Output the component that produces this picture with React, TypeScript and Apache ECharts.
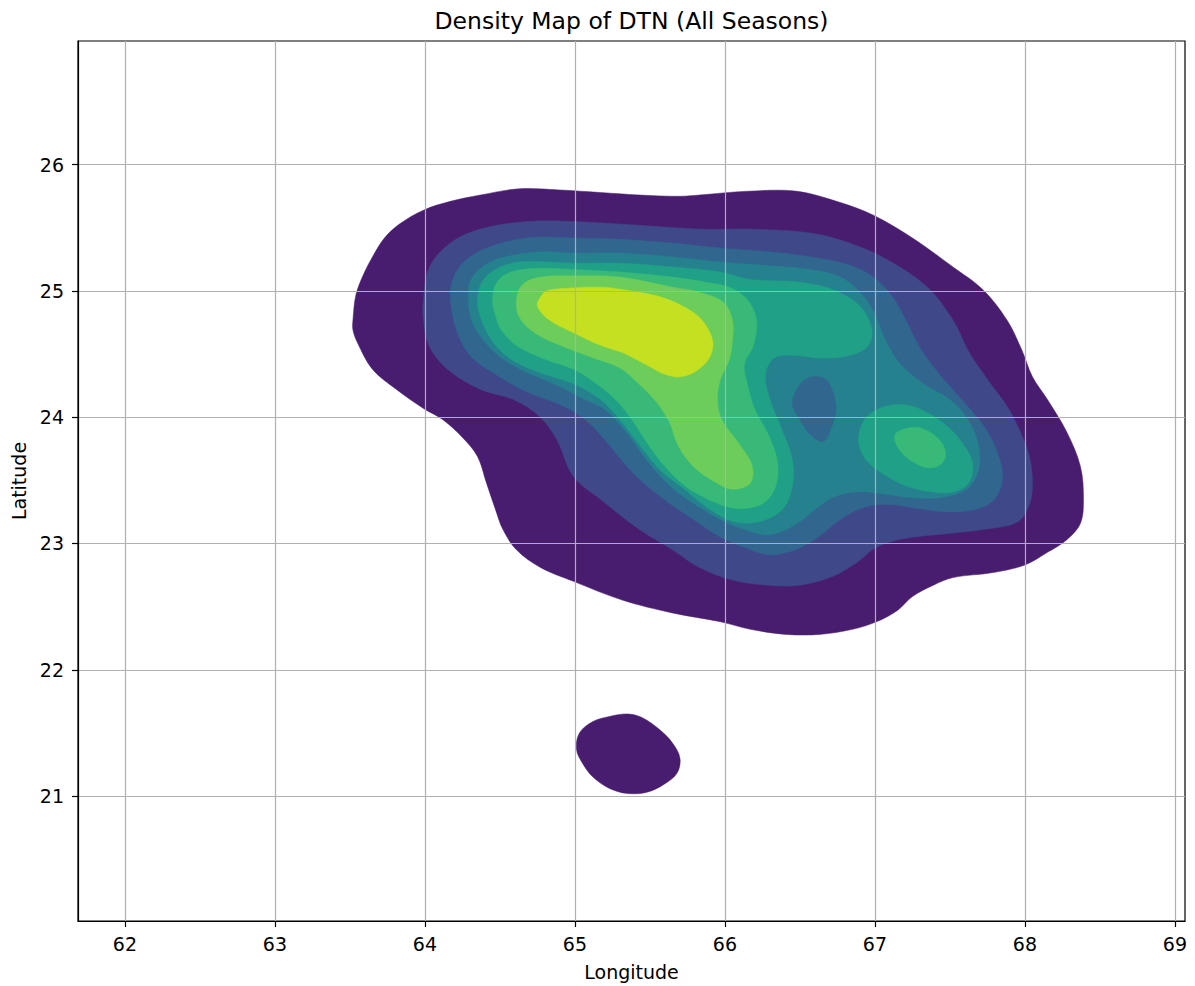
import React, { useEffect, useRef } from "react";
import * as echarts from "echarts";

const xTicks = [62, 63, 64, 65, 66, 67, 68, 69];
const yTicks = [21, 22, 23, 24, 25, 26];
const xRange = [61.687, 69.067];
const yRange = [20.01, 26.98];

const levelColors = ["#481c6e", "#3f4889", "#31668e", "#26818e", "#20a087", "#38b977", "#6ccd5a", "#c5e021"];

const level1Main = [[63.52,24.77],[63.54,24.97],[63.59,25.13],[63.65,25.27],[63.73,25.42],[63.83,25.53],[63.99,25.64],[64.17,25.71],[64.37,25.76],[64.63,25.81],[64.90,25.80],[65.17,25.78],[65.43,25.76],[65.70,25.75],[65.83,25.76],[66.15,25.79],[66.48,25.79],[66.77,25.70],[66.99,25.60],[67.25,25.42],[67.52,25.19],[67.72,25.01],[67.88,24.77],[67.98,24.53],[68.05,24.32],[68.15,24.14],[68.28,23.88],[68.37,23.61],[68.39,23.35],[68.37,23.16],[68.28,23.03],[68.15,22.93],[68.00,22.83],[67.79,22.77],[67.52,22.73],[67.39,22.67],[67.25,22.58],[67.15,22.47],[67.01,22.38],[66.85,22.32],[66.63,22.28],[66.41,22.28],[66.17,22.32],[65.97,22.38],[65.65,22.45],[65.32,22.55],[64.99,22.70],[64.77,22.81],[64.61,22.95],[64.52,23.11],[64.47,23.27],[64.41,23.48],[64.35,23.69],[64.25,23.84],[64.12,23.98],[63.99,24.07],[63.81,24.22],[63.65,24.38],[63.55,24.59],[63.52,24.69]];
const level1Small = [[65.03,21.50],[65.12,21.59],[65.23,21.63],[65.35,21.65],[65.45,21.62],[65.57,21.52],[65.65,21.42],[65.70,21.30],[65.68,21.18],[65.59,21.09],[65.48,21.03],[65.35,21.02],[65.23,21.06],[65.12,21.15],[65.05,21.26],[65.01,21.37]];
const level2 = [[63.99,24.77],[63.99,24.93],[64.03,25.19],[64.17,25.38],[64.37,25.49],[64.68,25.55],[64.99,25.55],[65.43,25.52],[65.83,25.49],[66.17,25.49],[66.57,25.46],[66.83,25.38],[67.08,25.25],[67.35,25.03],[67.52,24.77],[67.63,24.51],[67.75,24.30],[67.89,24.07],[67.97,23.88],[68.03,23.69],[68.05,23.48],[68.03,23.31],[67.95,23.17],[67.72,23.11],[67.50,23.08],[67.20,23.04],[67.01,22.97],[66.88,22.85],[66.72,22.74],[66.50,22.67],[66.28,22.67],[66.05,22.71],[65.83,22.81],[65.65,22.95],[65.43,23.11],[65.17,23.35],[64.99,23.53],[64.88,23.82],[64.77,24.00],[64.59,24.14],[64.37,24.22],[64.15,24.38],[64.03,24.56]];
const level3 = [[64.17,24.93],[64.18,25.07],[64.25,25.22],[64.41,25.34],[64.68,25.42],[64.99,25.42],[65.30,25.41],[65.65,25.38],[65.97,25.34],[66.30,25.31],[66.57,25.27],[66.82,25.21],[66.99,25.11],[67.12,24.95],[67.21,24.76],[67.30,24.55],[67.43,24.34],[67.57,24.15],[67.72,23.94],[67.81,23.74],[67.85,23.54],[67.81,23.37],[67.70,23.28],[67.50,23.25],[67.27,23.28],[67.08,23.31],[66.91,23.28],[66.77,23.19],[66.62,23.05],[66.47,22.95],[66.30,22.91],[66.13,22.97],[65.97,23.05],[65.79,23.19],[65.57,23.37],[65.37,23.58],[65.20,23.82],[65.07,23.98],[64.90,24.10],[64.68,24.20],[64.47,24.34],[64.30,24.49],[64.21,24.69]];
const level4 = [[64.29,24.93],[64.30,25.07],[64.37,25.18],[64.50,25.26],[64.77,25.31],[64.99,25.30],[65.30,25.30],[65.65,25.27],[65.97,25.23],[66.30,25.20],[66.57,25.17],[66.77,25.11],[66.90,24.99],[66.99,24.84],[67.07,24.61],[67.17,24.42],[67.33,24.26],[67.50,24.14],[67.62,23.98],[67.69,23.78],[67.69,23.58],[67.62,23.44],[67.47,23.37],[67.27,23.36],[67.07,23.39],[66.89,23.41],[66.73,23.37],[66.60,23.27],[66.47,23.15],[66.30,23.07],[66.13,23.11],[65.97,23.19],[65.80,23.31],[65.63,23.46],[65.48,23.66],[65.33,23.90],[65.20,24.06],[65.05,24.15],[64.87,24.26],[64.67,24.36],[64.50,24.48],[64.39,24.61],[64.31,24.77]];
const level3Hole = [[66.50,24.26],[66.58,24.32],[66.67,24.30],[66.72,24.20],[66.74,24.06],[66.71,23.92],[66.66,23.81],[66.58,23.85],[66.50,23.98],[66.45,24.11]];
const level5Main = [[64.35,24.93],[64.38,25.07],[64.47,25.17],[64.63,25.23],[64.99,25.22],[65.30,25.22],[65.65,25.19],[65.97,25.15],[66.17,25.09],[66.50,25.07],[66.72,25.01],[66.90,24.88],[66.98,24.69],[66.95,24.56],[66.83,24.49],[66.63,24.47],[66.47,24.49],[66.33,24.47],[66.27,24.34],[66.30,24.14],[66.38,23.90],[66.45,23.66],[66.45,23.46],[66.39,23.28],[66.25,23.18],[66.07,23.17],[65.90,23.27],[65.73,23.43],[65.57,23.58],[65.43,23.78],[65.30,23.98],[65.17,24.14],[65.00,24.26],[64.80,24.34],[64.60,24.44],[64.47,24.57],[64.38,24.76]];
const level5Right = [[66.89,23.82],[66.93,23.98],[67.03,24.07],[67.17,24.10],[67.31,24.06],[67.47,23.94],[67.58,23.80],[67.65,23.64],[67.63,23.49],[67.53,23.41],[67.37,23.41],[67.20,23.46],[67.03,23.57],[66.93,23.68]];
const level6Main = [[64.45,24.93],[64.48,25.07],[64.57,25.15],[64.77,25.18],[64.99,25.17],[65.30,25.15],[65.65,25.11],[65.87,25.07],[66.03,25.03],[66.15,24.93],[66.21,24.77],[66.19,24.57],[66.13,24.42],[66.15,24.26],[66.20,24.06],[66.29,23.86],[66.35,23.65],[66.34,23.46],[66.27,23.33],[66.15,23.28],[66.02,23.29],[65.87,23.36],[65.73,23.46],[65.60,23.61],[65.49,23.78],[65.38,23.98],[65.27,24.14],[65.15,24.26],[64.99,24.38],[64.80,24.46],[64.62,24.56],[64.51,24.69],[64.47,24.81]];
const level6Right = [[67.13,23.85],[67.18,23.90],[67.27,23.92],[67.37,23.88],[67.45,23.79],[67.47,23.69],[67.43,23.62],[67.35,23.60],[67.25,23.65],[67.17,23.73]];
const level7 = [[64.61,24.93],[64.65,25.05],[64.77,25.11],[65.01,25.12],[65.30,25.11],[65.65,25.03],[65.83,24.99],[65.99,24.91],[66.05,24.77],[66.05,24.61],[66.03,24.46],[65.97,24.30],[65.95,24.14],[65.98,23.98],[66.10,23.78],[66.18,23.62],[66.17,23.48],[66.05,23.43],[65.93,23.49],[65.79,23.61],[65.69,23.77],[65.63,23.96],[65.55,24.11],[65.43,24.26],[65.30,24.39],[65.10,24.48],[64.90,24.57],[64.73,24.67],[64.63,24.79]];
const level8 = [[64.77,24.95],[64.81,25.00],[64.93,25.02],[65.17,25.03],[65.32,25.01],[65.55,24.96],[65.72,24.88],[65.83,24.79],[65.90,24.67],[65.92,24.57],[65.89,24.46],[65.80,24.36],[65.70,24.32],[65.60,24.34],[65.50,24.40],[65.32,24.51],[65.17,24.57],[64.99,24.67],[64.83,24.77],[64.75,24.88]];

const contours = [
  { level: 0, pts: level1Main },
  { level: 0, pts: level1Small },
  { level: 1, pts: level2 },
  { level: 2, pts: level3 },
  { level: 3, pts: level4 },
  { level: 2, pts: level3Hole },
  { level: 4, pts: level5Main },
  { level: 4, pts: level5Right },
  { level: 5, pts: level6Main },
  { level: 5, pts: level6Right },
  { level: 6, pts: level7 },
  { level: 7, pts: level8 },
];

const FONT = "DejaVu Sans";

export default function App() {
  const ref = useRef<HTMLDivElement>(null);
  useEffect(() => {
    const chart = echarts.init(ref.current!, null, { renderer: "svg" });
    chart.setOption({
      animation: false,
      backgroundColor: "#ffffff",
      grid: { left: 78, right: 10, top: 41, bottom: 65, show: true, borderColor: "#000", borderWidth: 1.2, backgroundColor: "transparent" },
      graphic: [
        {
          type: "text",
          x: 631.5,
          y: 21,
          style: { text: "Density Map of DTN (All Seasons)", fill: "#000", font: `23.5px "${FONT}"`, textAlign: "center", textVerticalAlign: "middle" },
        },
      ],
      xAxis: {
        type: "value",
        min: xRange[0],
        max: xRange[1],
        z: 5,
        name: "Longitude",
        nameLocation: "middle",
        nameGap: 41,
        nameTextStyle: { color: "#000", fontSize: 19, fontFamily: FONT },
        axisLine: { show: true, onZero: false, lineStyle: { color: "#000", width: 1.2 } },
        axisTick: { show: true, customValues: xTicks, length: 6, lineStyle: { color: "#000", width: 1.2 } },
        axisLabel: { customValues: xTicks, color: "#000", fontSize: 19, fontFamily: FONT, margin: 13 },
        splitLine: { show: true, lineStyle: { color: "#b0b0b0", width: 1.2 } },
      },
      yAxis: {
        type: "value",
        min: yRange[0],
        max: yRange[1],
        z: 5,
        name: "Latitude",
        nameLocation: "middle",
        nameGap: 48,
        nameRotate: 90,
        nameTextStyle: { color: "#000", fontSize: 19, fontFamily: FONT },
        axisLine: { show: true, onZero: false, lineStyle: { color: "#000", width: 1.2 } },
        axisTick: { show: true, customValues: yTicks, length: 6, lineStyle: { color: "#000", width: 1.2 } },
        axisLabel: { customValues: yTicks, color: "#000", fontSize: 19, fontFamily: FONT, margin: 14 },
        splitLine: { show: true, lineStyle: { color: "#b0b0b0", width: 1.2 } },
      },
      series: [
        {
          type: "custom",
          coordinateSystem: "cartesian2d",
          clip: true,
          encode: { x: 0, y: 1 },
          data: contours.map((c, i) => [c.pts[0][0], c.pts[0][1], i]),
          renderItem: (params: any, api: any) => {
            const idx = api.value(2);
            const c = contours[idx];
            return {
              type: "polygon",
              z2: idx,
              shape: { points: c.pts.map((p) => api.coord(p)), smooth: 0.35 },
              style: { fill: levelColors[c.level], stroke: levelColors[c.level], lineWidth: 0.5 },
            };
          },
        },
      ],
    });
    return () => chart.dispose();
  }, []);
  return <div ref={ref} style={{ position: "absolute", left: 0, top: 0, width: 1195, height: 986 }} />;
}
